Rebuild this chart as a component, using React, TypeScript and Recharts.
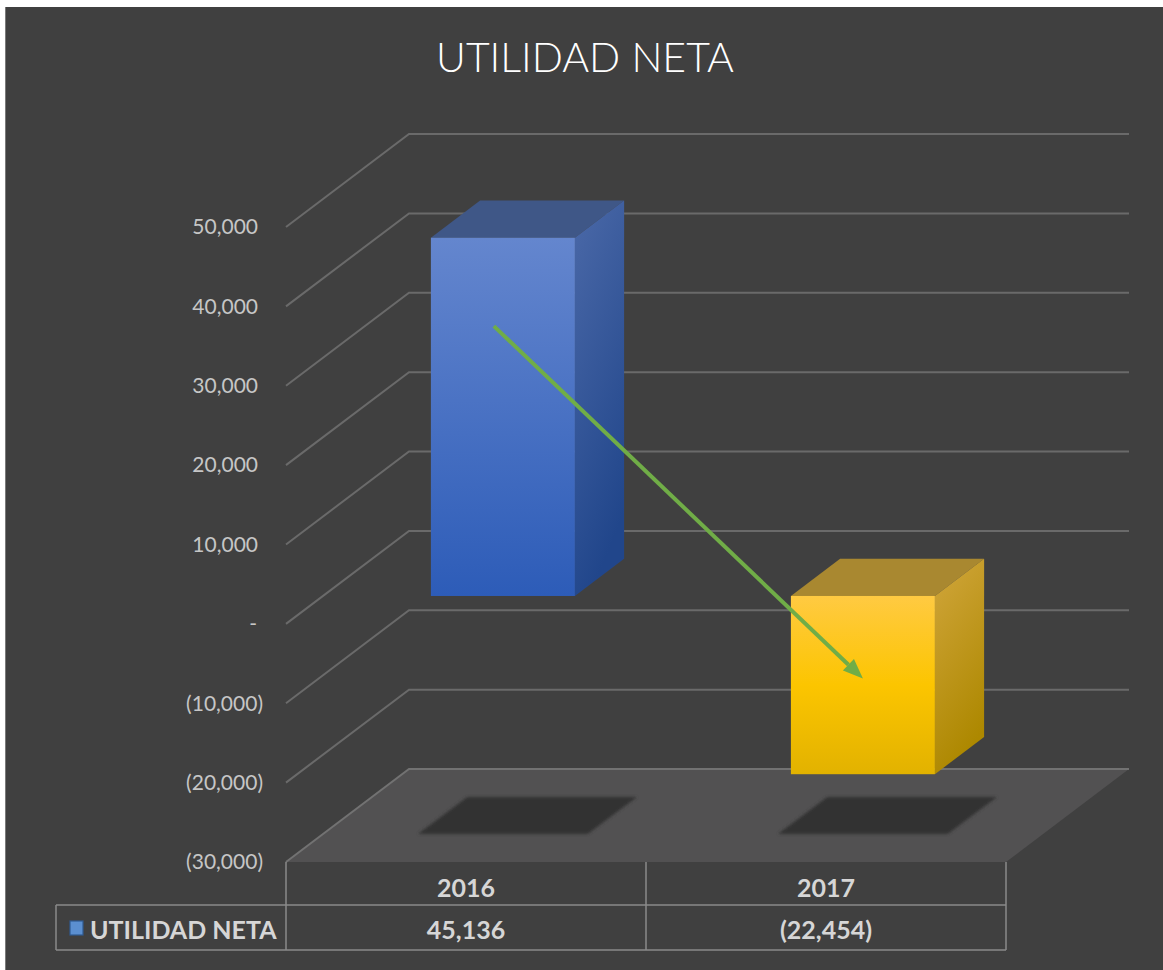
import React from "react";
import { BarChart, Bar, XAxis, YAxis, CartesianGrid, ReferenceLine } from "recharts";

const categories = ["2016", "2017"];
const utilidadNeta = [45136, -22454];
const yTicks = [-30000, -20000, -10000, 0, 10000, 20000, 30000, 40000, 50000];
// green trend arrow drawn on the chart (start / end value)
const arrowValues = [34000, -10400];

const data = categories.map((year, i) => ({ year, value: utilidadNeta[i] }));

const W = 1158;
const H = 963;
const DEPTH_X = 123;
const DEPTH_Y = -93;
const FRONT = 0.3;
const BACK = 0.7;
const Y_MIN = yTicks[0];
const Y_MAX = yTicks[yTicks.length - 1];
const LEGEND_LEFT = 50;

const palettes = [
  { front: ["#6486ce", "#2d5cb8"], side: ["#4b69a8", "#21468b"], top: "#3f5787" },
  { front: ["#ffca42", "#fcc500", "#e2b200"], side: ["#d1a63c", "#ad8800"], top: "#a98830" },
];

const fmt = (v: number) => {
  if (v === 0) return "-";
  const s = Math.abs(v).toLocaleString("en-US");
  return v < 0 ? `(${s})` : s;
};

function GridLine(props: any) {
  const { x1, x2, y1, y, height } = props;
  const bx1 = x1 + DEPTH_X;
  const bx2 = x2 + DEPTH_X;
  const by = y1 + DEPTH_Y;
  const isFloor = y !== undefined && height !== undefined && y1 >= y + height - 1;
  if (isFloor) {
    return (
      <g>
        <polygon points={`${x1},${y1} ${bx1},${by} ${bx2},${by} ${x2},${y1}`} fill="#525152" />
        <polyline points={`${x1},${y1} ${bx1},${by} ${bx2},${by}`} fill="none" stroke="#727272" strokeWidth={2} />
      </g>
    );
  }
  return (
    <polyline
      points={`${x1},${y1} ${bx1},${by} ${bx2},${by}`}
      fill="none"
      stroke="#6a6a6a"
      strokeWidth={2}
    />
  );
}

function Bar3D(props: any) {
  const { x, y, width, height, index, payload } = props;
  const v = payload.value;
  const top = Math.min(y, y + height);
  const bottom = Math.max(y, y + height);
  const ppu = (bottom - top) / Math.abs(v);
  const zeroY = v >= 0 ? bottom : top;
  const floorY = zeroY + (0 - Y_MIN) * ppu;
  const pal = palettes[index % palettes.length];

  const fx = x + FRONT * DEPTH_X;
  const ft = top + FRONT * DEPTH_Y;
  const fb = bottom + FRONT * DEPTH_Y;
  const dx = (BACK - FRONT) * DEPTH_X;
  const dy = (BACK - FRONT) * DEPTH_Y;

  // blurred shadow on the floor
  const pad = 13;
  const sy1 = floorY + FRONT * DEPTH_Y;
  const sy2 = floorY + BACK * DEPTH_Y;
  const shadow = [
    [x + FRONT * DEPTH_X - pad, sy1],
    [x + width + FRONT * DEPTH_X + pad, sy1],
    [x + width + BACK * DEPTH_X + pad, sy2],
    [x + BACK * DEPTH_X - pad, sy2],
  ]
    .map((p) => p.join(","))
    .join(" ");

  const fid = `front-${index}`;
  const sid = `side-${index}`;
  return (
    <g>
      <defs>
        <linearGradient id={fid} x1="0" y1="0" x2="0" y2="1">
          {pal.front.map((c, i) => (
            <stop key={i} offset={i / (pal.front.length - 1)} stopColor={c} />
          ))}
        </linearGradient>
        <linearGradient id={sid} x1="0" y1="0" x2="0.3" y2="1">
          <stop offset="0" stopColor={pal.side[0]} />
          <stop offset="1" stopColor={pal.side[1]} />
        </linearGradient>
        <filter id={`blur-${index}`} x="-10%" y="-20%" width="120%" height="140%">
          <feGaussianBlur stdDeviation="1.5" />
        </filter>
      </defs>
      <polygon points={shadow} fill="#333333" filter={`url(#blur-${index})`} />
      <polygon
        points={`${fx},${ft} ${fx + width},${ft} ${fx + width + dx},${ft + dy} ${fx + dx},${ft + dy}`}
        fill={pal.top}
      />
      <polygon
        points={`${fx + width},${ft} ${fx + width + dx},${ft + dy} ${fx + width + dx},${fb + dy} ${fx + width},${fb}`}
        fill={`url(#${sid})`}
      />
      <rect x={fx} y={ft} width={width} height={fb - ft} fill={`url(#${fid})`} />
    </g>
  );
}

function AxisTick(props: any) {
  const { x, y, payload } = props;
  const v = payload.value;
  const endX = v < 0 ? x - 23 : v === 0 ? x - 29 : x - 28;
  return (
    <text x={endX} y={y} dy="0.35em" textAnchor="end" fill="#c6c6c6" fontSize={21} fontFamily="Lato">
      {fmt(v)}
    </text>
  );
}

function TableTick(props: any) {
  const { x, y, payload, index, width } = props;
  const band = (width || 720) / categories.length;
  const left = x - band / 2;
  const right = x + band / 2;
  const r1 = y + 43;
  const r2 = y + 88;
  const line = "#8a8a8a";
  const txt = { fill: "#d6d6d6", fontSize: 25, fontWeight: 700, fontFamily: "Lato", textAnchor: "middle" as const };
  return (
    <g>
      {index === 0 && <line x1={left} y1={y} x2={left} y2={r2} stroke={line} strokeWidth={1.5} />}
      <line x1={right} y1={y} x2={right} y2={r2} stroke={line} strokeWidth={1.5} />
      <line x1={left} y1={r1} x2={right} y2={r1} stroke={line} strokeWidth={1.5} />
      <line x1={left} y1={r2} x2={right} y2={r2} stroke={line} strokeWidth={1.5} />
      <text x={x} y={y + 35} {...txt}>
        {payload.value}
      </text>
      <text x={x} y={y + 77} {...txt}>
        {fmt(utilidadNeta[index])}
      </text>
      {index === 0 && (
        <g>
          <line x1={LEGEND_LEFT} y1={r1} x2={left} y2={r1} stroke={line} strokeWidth={1.5} />
          <line x1={LEGEND_LEFT} y1={r2} x2={left} y2={r2} stroke={line} strokeWidth={1.5} />
          <line x1={LEGEND_LEFT} y1={r1} x2={LEGEND_LEFT} y2={r2} stroke={line} strokeWidth={1.5} />
          <rect x={LEGEND_LEFT + 14} y={r1 + 16} width={13} height={14} fill="#5b8fd0" stroke="#2f5a92" strokeWidth={1.2} />
          <text x={LEGEND_LEFT + 34} y={y + 77} fill="#d6d6d6" fontSize={25} fontWeight={700} fontFamily="Lato">
            UTILIDAD NETA
          </text>
        </g>
      )}
    </g>
  );
}

function Arrow(props: any) {
  const { x1, y1, x2, y2 } = props;
  if ([x1, y1, x2, y2].some((n) => n === undefined || isNaN(n))) return null;
  const ox = FRONT * DEPTH_X;
  const oy = FRONT * DEPTH_Y;
  const sx = x1 + ox - 9;
  const sy = y1 + oy;
  const ex = x2 + ox;
  const ey = y2 + oy;
  const ang = Math.atan2(ey - sy, ex - sx);
  const len = 20;
  const hw = 8;
  const bx = ex - len * Math.cos(ang);
  const by = ey - len * Math.sin(ang);
  const px = -Math.sin(ang) * hw;
  const py = Math.cos(ang) * hw;
  return (
    <g>
      <line x1={sx} y1={sy} x2={bx} y2={by} stroke="#70ad47" strokeWidth={4} />
      <polygon points={`${ex},${ey} ${bx + px},${by + py} ${bx - px},${by - py}`} fill="#70ad47" />
    </g>
  );
}

export default function App() {
  return (
    <div
      style={{
        position: "absolute",
        left: 5,
        top: 7,
        width: W,
        height: H,
        background: "#404040",
        borderLeft: "1px solid #7a7a7a",
        boxSizing: "border-box",
        fontFamily: "Lato",
      }}
    >
      <div
        style={{
          position: "absolute",
          top: 29,
          left: 0,
          width: W,
          textAlign: "center",
          color: "#ffffff",
          fontSize: 41,
          fontWeight: 300,
          lineHeight: 1,
        }}
      >
        UTILIDAD NETA
      </div>
      <BarChart
        width={W}
        height={H}
        data={data}
        margin={{ top: 220, right: 158, bottom: 8, left: 0 }}
        barCategoryGap="30%"
        style={{ position: "absolute", left: 0, top: 0 }}
      >
        <CartesianGrid vertical={false} horizontal={(p: any) => <GridLine {...p} />} />
        <XAxis
          dataKey="year"
          height={100}
          axisLine={false}
          tickLine={false}
          tickSize={0}
          tickMargin={0}
          interval={0}
          tick={(p: any) => <TableTick {...p} />}
        />
        <YAxis
          width={280}
          domain={[Y_MIN, Y_MAX]}
          ticks={yTicks}
          interval={0}
          axisLine={false}
          tickLine={false}
          tickSize={0}
          tickMargin={0}
          tick={(p: any) => <AxisTick {...p} />}
        />
        <Bar dataKey="value" isAnimationActive={false} shape={(p: any) => <Bar3D {...p} />} />
        <ReferenceLine
          segment={[
            { x: categories[0], y: arrowValues[0] },
            { x: categories[1], y: arrowValues[1] },
          ]}
          shape={(p: any) => <Arrow {...p} />}
        />
      </BarChart>
    </div>
  );
}
